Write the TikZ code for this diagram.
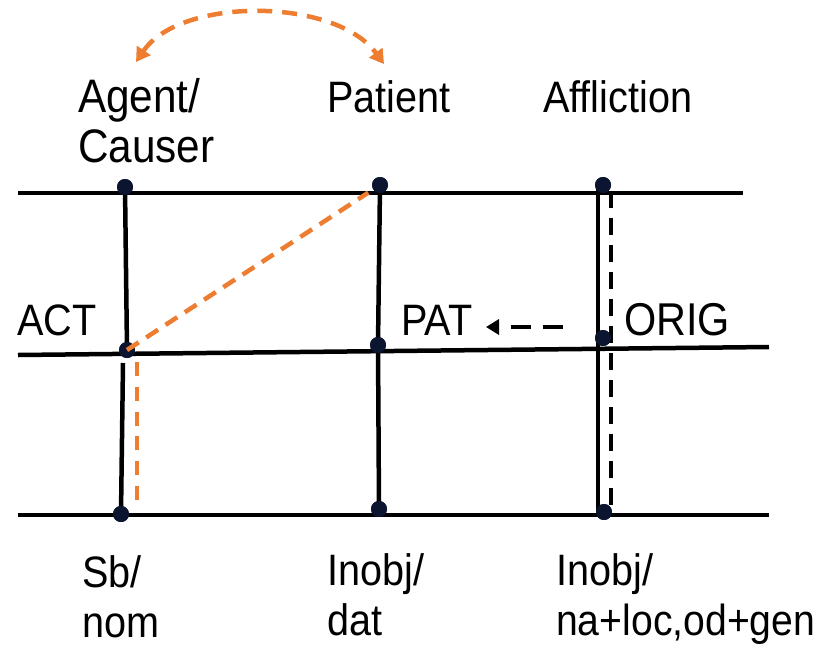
\documentclass[tikz,border=0pt]{standalone}
\usepackage{fontspec}
\setmainfont{Liberation Sans}[FakeStretch=0.9]
\usetikzlibrary{arrows.meta}
\definecolor{orng}{HTML}{ED7D31}
\definecolor{dotc}{HTML}{0B1530}
\begin{document}
\begin{tikzpicture}[x=1pt,y=-1pt,
  lbl/.style={anchor=base west,inner sep=0pt,font=\fontsize{44}{50}\selectfont},
  lblbig/.style={lbl,font=\fontsize{47}{52}\selectfont},
  rule/.style={line width=4.5pt,black},
  dotnode/.style={circle,fill=dotc,inner sep=0pt,minimum size=16pt},
  odash/.style={orng,line width=4.5pt,dash pattern=on 14pt off 9pt},
  kdash/.style={black,line width=4.5pt,dash pattern=on 17pt off 10pt}]
\useasboundingbox (0,0) rectangle (823,646);
% horizontal rules
\coordinate (t0) at (18,193); \coordinate (t1) at (743,193);
\coordinate (m0) at (18,355); \coordinate (m1) at (769,347);
\coordinate (b0) at (18,515); \coordinate (b1) at (769,515);
\draw[rule] (t0) -- (t1);
\draw[rule] (m0) -- (m1);
\draw[rule] (b0) -- (b1);
% vertical lines
\coordinate (a2low) at (123,363);
\coordinate (ao1) at (137,362); \coordinate (ao2) at (137,500);
\coordinate (fs1) at (598,187); \coordinate (fs2) at (598,512);
\coordinate (fd1) at (611,191); \coordinate (fd2) at (611,510);
\node[dotnode] (a1) at (125,187) {};
\node[dotnode] (a2) at (127,350) {};
\node[dotnode] (a3) at (121,514) {};
\node[dotnode] (p1) at (380,185) {};
\node[dotnode] (p2) at (378,345) {};
\node[dotnode] (p3) at (379,509) {};
\node[dotnode] (f1) at (603,185) {};
\node[dotnode] (f2) at (603,338) {};
\node[dotnode] (f3) at (604,512) {};
\draw[rule] (a1.center) -- (a2.center);
\draw[rule] (a2low) -- (a3.center);
\draw[rule] (p1.center) -- (p2.center) -- (p3.center);
\draw[rule] (fs1) -- (fs2);
\draw[kdash] (fd1) -- (fd2);
\node[dotnode] at (a1) {};\node[dotnode] at (a2) {};\node[dotnode] at (a3) {};
\node[dotnode] at (p1) {};\node[dotnode] at (p2) {};\node[dotnode] at (p3) {};
\node[dotnode] at (f1) {};\node[dotnode] at (f2) {};\node[dotnode] at (f3) {};
% orange dashed lines
\draw[odash,dash pattern=on 14pt off 10.8pt] (ao1) -- (ao2);
\draw[odash,shorten >=14pt] (a2.center) -- (p1.center);
% dashed black arrow
\coordinate (ka) at (563,327); \coordinate (kb) at (486,327);
\draw[kdash,dash pattern=on 20pt off 12pt,-{Triangle[length=13pt,width=15pt]}] (ka) -- (kb);
% orange arc
\coordinate (arcR) at (384,64); \coordinate (arcL) at (136,62);
\draw[odash,dash pattern=on 15pt off 10pt,{Triangle[length=14pt,width=16pt]}-{Triangle[length=14pt,width=16pt]}] (arcL) .. controls (180,-3) and (335,-3) .. (arcR);
% labels
\node[lblbig] (agent) at (78,112) {Agent/};
\node[lblbig] (causer) at (78,162) {Causer};
\node[lbl] (patient) at (327,112) {Patient};
\node[lbl] (affl) at (543,112) {Affliction};
\node[lbl] (act) at (17,335) {ACT};
\node[lbl] (pat) at (401,335) {PAT};
\node[lbl,font=\fontsize{46}{50}\selectfont] (orig) at (624,335) {ORIG};
\node[lbl] (sb) at (82,587) {Sb/};
\node[lbl] (nom) at (82,637) {nom};
\node[lbl] (inobj1) at (327,585) {Inobj/};
\node[lbl] (dat) at (327,635) {dat};
\node[lbl] (inobj2) at (556,585) {Inobj/};
\node[lbl,font=\fontsize{43.5}{50}\selectfont] (nagen) at (556,635) {na+loc,od+gen};
\end{tikzpicture}
\end{document}
